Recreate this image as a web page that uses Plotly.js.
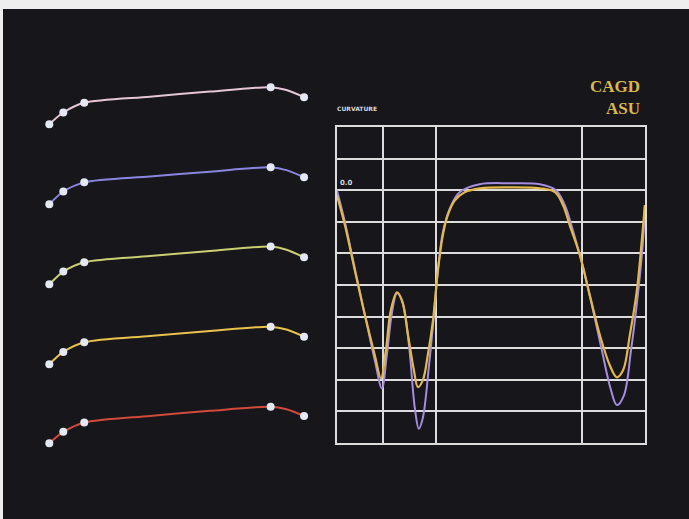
<!DOCTYPE html>
<html><head><meta charset="utf-8">
<script src="https://cdn.plot.ly/plotly-3.0.1.min.js"></script>
<style>html,body{margin:0;padding:0;background:#f0f0f0;}#chart{width:689px;height:519px;}</style>
</head><body><div id="chart"></div>
<script>
// ---- Left panel: five design curves (control points + curve samples) ----
var ctrlX = [0, 5.5, 13.7, 86.8, 99.9];
var ctrlY1 = [154.8, 159.4, 163.2, 169.3, 165.4];
var ctrlY2 = [123.4, 128.4, 132.0, 137.9, 134.0];
var ctrlY3 = [92.0, 97.0, 100.7, 106.8, 102.6];
var ctrlY4 = [60.7, 65.5, 69.3, 75.4, 71.5];
var ctrlY5 = [29.7, 34.2, 37.8, 44.0, 40.4];

var curveX = [0, 5.5, 13.7, 39.5, 63.0, 86.8, 93.0, 99.9];
var curveY1 = [154.8, 159.4, 163.2, 165.6, 167.6, 169.3, 168.2, 165.4];
var curveY2 = [123.4, 128.4, 132.0, 134.3, 136.2, 137.9, 136.8, 134.0];
var curveY3 = [92.0, 97.0, 100.7, 103.1, 105.1, 106.8, 105.6, 102.6];
var curveY4 = [60.7, 65.5, 69.3, 71.8, 73.7, 75.4, 74.3, 71.5];
var curveY5 = [29.7, 34.2, 37.8, 40.4, 42.4, 44.0, 43.0, 40.4];
var curveColors = ['#e6c6d6', '#8a86e0', '#c9cf72', '#e8c24a', '#d24a3a'];

// ---- Right panel: curvature plots ----
var knotTicks = [0, 14.8, 32.1, 79.5, 100];
var kYellowX = [0, 2.6, 5.8, 9.1, 12.3, 14.3, 15.9, 17.5, 19.5, 21.1, 23.1, 25.0, 26.3, 27.9, 29.5, 31.2, 32.8, 34.4, 36.0, 38.3, 41.6, 46.4, 56.2, 65.9, 70.8, 73.4, 75.6, 78.9, 82.1, 85.4, 88.6, 90.9, 92.9, 95.1, 97.4, 99.0, 100];
var kYellowY = [-0.16, -1.11, -2.53, -3.96, -5.22, -5.95, -5.06, -3.80, -3.23, -3.48, -4.59, -5.70, -6.23, -6.01, -5.22, -4.11, -2.53, -1.42, -0.79, -0.32, -0.06, 0.06, 0.09, 0.06, -0.06, -0.47, -1.11, -2.06, -3.32, -4.59, -5.54, -5.92, -5.70, -4.59, -3.16, -1.58, -0.47];
var kPurpleX = [0, 2.6, 5.8, 9.1, 12.3, 14.6, 16.2, 17.9, 19.5, 21.4, 23.4, 25.3, 26.6, 27.9, 29.9, 31.2, 32.8, 34.4, 36.7, 39.9, 46.4, 56.2, 65.9, 71.1, 74.0, 76.6, 79.5, 82.8, 86.0, 89.0, 90.9, 93.2, 95.5, 97.7, 99.4, 100];
var kPurpleY = [0.0, -1.01, -2.47, -3.96, -5.38, -6.27, -5.22, -3.86, -3.26, -3.58, -4.91, -6.9, -7.55, -7.2, -5.54, -4.27, -2.53, -1.33, -0.57, -0.06, 0.19, 0.22, 0.19, 0.0, -0.47, -1.27, -2.28, -3.64, -5.06, -6.33, -6.80, -6.49, -5.06, -3.32, -1.58, -0.47];

var curves = [curveY1, curveY2, curveY3, curveY4, curveY5];
var ctrls = [ctrlY1, ctrlY2, ctrlY3, ctrlY4, ctrlY5];
var traces = [];
for (var i = 0; i < 5; i++) {
  traces.push({x: curveX, y: curves[i], mode: 'lines', xaxis: 'x', yaxis: 'y',
    line: {color: curveColors[i], width: 2, shape: 'spline', smoothing: 0.8}, hoverinfo: 'skip'});
}
for (var j = 0; j < 5; j++) {
  traces.push({x: ctrlX, y: ctrls[j], mode: 'markers', xaxis: 'x', yaxis: 'y',
    marker: {color: '#e4e8f2', size: 8, line: {width: 0}}, hoverinfo: 'skip'});
}
traces.push({x: kPurpleX, y: kPurpleY, mode: 'lines', xaxis: 'x2', yaxis: 'y2',
  line: {color: '#a58ee0', width: 2, shape: 'spline', smoothing: 1}, hoverinfo: 'skip'});
traces.push({x: kYellowX, y: kYellowY, mode: 'lines', xaxis: 'x2', yaxis: 'y2',
  line: {color: '#e2b84a', width: 2.2, shape: 'spline', smoothing: 1}, hoverinfo: 'skip'});

var layout = {
  width: 689, height: 519,
  margin: {l: 0, r: 0, t: 0, b: 0},
  paper_bgcolor: '#eeeeee', plot_bgcolor: 'rgba(0,0,0,0)',
  showlegend: false,
  xaxis: {domain: [0, 0.479], range: [-19.33, 110.08], visible: false, fixedrange: true},
  yaxis: {domain: [0, 1], range: [0, 203.5], visible: false, fixedrange: true},
  xaxis2: {domain: [0.489, 0.936], range: [0, 100], anchor: 'y2', tickvals: knotTicks,
    showticklabels: false, ticks: '', showgrid: true, gridcolor: '#dcdcdc', gridwidth: 2,
    showline: true, mirror: true, linecolor: '#dcdcdc', linewidth: 2, zeroline: false},
  yaxis2: {domain: [0.1464, 0.7553], range: [-8, 2], anchor: 'x2', dtick: 1, tick0: 0,
    showticklabels: false, ticks: '', showgrid: true, gridcolor: '#dcdcdc', gridwidth: 2,
    showline: true, mirror: true, linecolor: '#dcdcdc', linewidth: 2, zeroline: false},
  shapes: [
    {type: 'rect', xref: 'paper', yref: 'paper', x0: 3/689, x1: 1, y0: 0, y1: 1 - 9/519,
     fillcolor: '#16161b', line: {width: 0}, layer: 'below'}
  ],
  annotations: [
    {text: 'CURVATURE', xref: 'paper', yref: 'paper', x: 335/689, y: 1 - 108/519,
     xanchor: 'left', yanchor: 'middle', showarrow: false,
     font: {family: 'DejaVu Sans', size: 6, color: '#d8d8d8', weight: 'bold'}},
    {text: '0.0', xref: 'paper', yref: 'paper', x: 338/689, y: 1 - 183/519,
     xanchor: 'left', yanchor: 'middle', showarrow: false,
     font: {family: 'DejaVu Sans', size: 7, color: '#d8d8d8', weight: 'bold'}},
    {text: 'CAGD<br>ASU', xref: 'paper', yref: 'paper', x: 642/689, y: 1 - 97/519,
     xanchor: 'right', yanchor: 'middle', align: 'right', showarrow: false,
     font: {family: 'Liberation Serif', size: 17, color: '#d9b850', weight: 'bold'}}
  ]
};
Plotly.newPlot('chart', traces, layout, {staticPlot: true, displayModeBar: false});
</script></body></html>
